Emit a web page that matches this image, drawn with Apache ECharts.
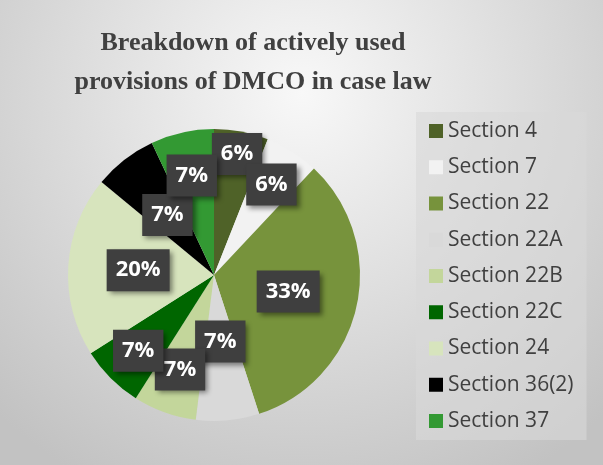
<!DOCTYPE html>
<html>
<head>
<meta charset="utf-8">
<script src="https://cdn.jsdelivr.net/npm/echarts@6/dist/echarts.min.js"></script>
<style>
html,body{margin:0;padding:0;background:#fff;}
#chart{width:603px;height:465px;}
</style>
</head>
<body>
<div id="chart"></div>
<script>
// ---- data ----
const categories = ['Section 4', 'Section 7', 'Section 22', 'Section 22A', 'Section 22B', 'Section 22C', 'Section 24', 'Section 36(2)', 'Section 37'];
const shares = [6, 6, 33, 7, 7, 7, 20, 7, 7];
const titleText = 'Breakdown of actively used\nprovisions of DMCO in case law';

// ---- styles ----
const colors = ['#4f6228', '#f2f2f2', '#77933c', '#d9d9d9', '#c3d69b', '#006600', '#d7e4bd', '#000000', '#339933'];
const labelRadial = [1.62, 1.41, 1.0, 0.88, 1.32, 1.41, 1.0, 1.0, 1.34];
const CX = 214, CY = 275, R = 146;

const chart = echarts.init(document.getElementById('chart'), null, {renderer: 'canvas'});
const option = {
  animation: false,
  backgroundColor: {
    type: 'radial', x: 0.5, y: 0.2, r: 0.95,
    colorStops: [{offset: 0, color: '#f8f8f8'}, {offset: 1, color: '#c2c2c2'}]
  },
  color: colors,
  title: {
    text: titleText,
    left: 253, top: 24, padding: 0,
    textAlign: 'center',
    textStyle: {
      fontFamily: 'Liberation Serif', fontWeight: 'bold', fontSize: 26,
      color: '#404040', lineHeight: 39
    }
  },
  legend: {
    orient: 'vertical',
    left: 416, top: 112,
    padding: [8, 13, 8, 13],
    backgroundColor: 'rgba(217,217,217,0.6)',
    itemWidth: 14, itemHeight: 14, itemGap: 14.25,
    icon: 'rect',
    data: categories,
    textStyle: {fontFamily: 'Open Sans', fontSize: 21, color: '#404040', lineHeight: 22, padding: [0, 0, 0, 0]}
  },
  series: [{
    type: 'pie',
    center: [CX, CY],
    radius: [0, R],
    startAngle: 90,
    clockwise: true,
    percentPrecision: 0,
    data: categories.map((c, i) => ({name: c, value: shares[i]})),
    itemStyle: {borderWidth: 0},
    emphasis: {disabled: true},
    label: {
      show: true,
      position: 'inside',
      formatter: '{d}%',
      fontFamily: 'Open Sans', fontWeight: 'bold', fontSize: 22, color: '#ffffff',
      lineHeight: 22,
      backgroundColor: '#3f3f3f',
      padding: [11, 9, 9, 9],
      shadowColor: 'rgba(0,0,0,0.45)', shadowBlur: 5, shadowOffsetX: 3, shadowOffsetY: 3
    },
    labelLine: {show: false},
    labelLayout: function (p) {
      const r = p.labelRect;
      const lx = r.x + r.width / 2, ly = r.y + r.height / 2;
      const k = labelRadial[p.dataIndex];
      return {dx: (lx - CX) * (k - 1), dy: (ly - CY) * (k - 1)};
    }
  }]
};
chart.setOption(option);
</script>
</body>
</html>
